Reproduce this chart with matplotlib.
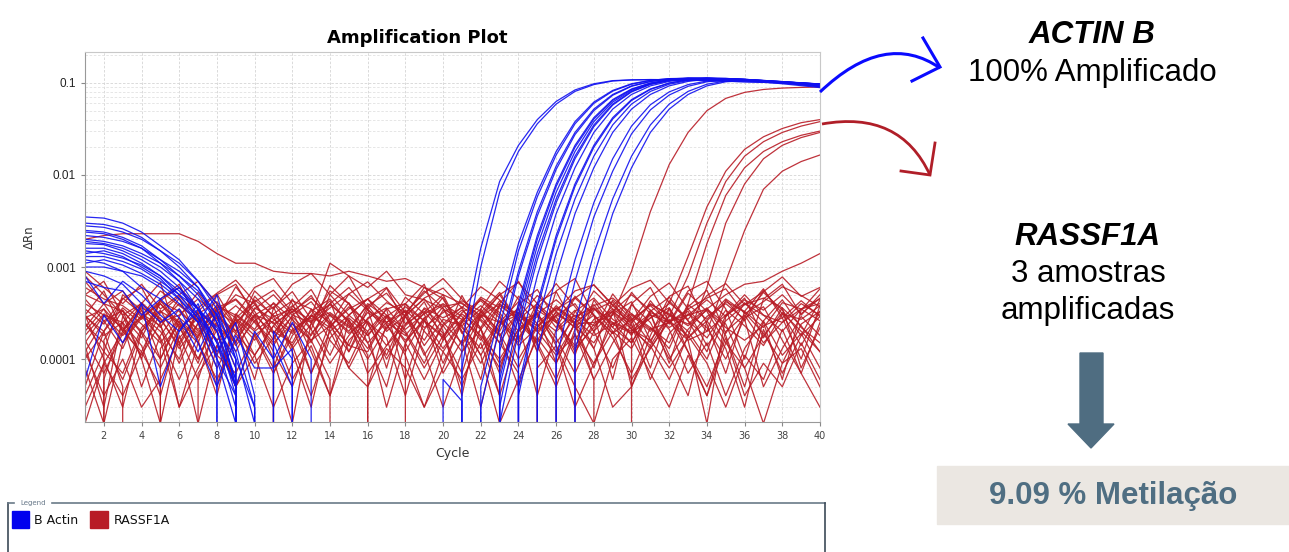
import numpy as np
import matplotlib
matplotlib.use("Agg")
import matplotlib.pyplot as plt
from matplotlib.patches import Rectangle, Polygon, PathPatch
from matplotlib.path import Path

# dRn values in units of 1e-4, cycles 1..40 (0 = below baseline)
cycles = list(range(1, 41))
RN_UNIT = 1e-4

b_actin = [
    [35, 34, 30, 24, 17, 12, 7, 3.5, 1, 0, 0, 0, 0, 0, 0, 0, 0, 0, 0, 0,
     1.5, 16, 85, 210, 400, 630, 840, 980, 1060, 1080, 1085, 1080, 1070, 1060, 1045, 1030, 1015, 1000, 990, 980],
    [30, 29, 26, 21, 15, 10, 6, 3, 0.5, 0, 0, 0, 0, 0, 0, 0, 0, 0, 0, 0,
     0.8, 10, 65, 180, 360, 590, 810, 960, 1050, 1080, 1090, 1085, 1075, 1060, 1045, 1030, 1015, 1000, 985, 975],
    [25, 24, 21, 17, 12, 8, 5, 2.5, 0.8, 0, 0, 0, 0, 0, 0, 0, 0, 0, 0, 0,
     0, 0.5, 3, 18, 65, 180, 380, 620, 830, 980, 1070, 1110, 1110, 1100, 1085, 1065, 1040, 1015, 990, 970],
    [20, 19, 17, 14, 11, 8, 5.5, 3, 1.2, 0.2, 0, 0, 0, 0, 0, 0, 0, 0, 0, 0,
     0, 0.3, 2.2, 15, 58, 165, 360, 600, 815, 970, 1065, 1115, 1125, 1110, 1090, 1065, 1035, 1000, 965, 930],
    [18, 17.5, 15, 12, 9, 6, 3.5, 1.5, 0.3, 0, 0, 0, 0, 0, 0, 0, 0, 0, 0, 0,
     0, 0, 1.5, 9, 40, 125, 290, 520, 750, 930, 1040, 1100, 1120, 1115, 1095, 1070, 1045, 1015, 985, 960],
    [15, 14, 12.5, 10.5, 8, 5.5, 3.5, 2, 0.6, 0, 0, 0, 0, 0, 0, 0, 0, 0, 0, 0,
     0, 0, 1.2, 8, 36, 115, 275, 500, 735, 920, 1035, 1105, 1130, 1125, 1100, 1065, 1025, 980, 935, 890],
    [13, 13, 11.5, 9.5, 7, 5, 3.5, 2.2, 1, 0.3, 0, 0, 0, 0, 0, 0, 0, 0, 0, 0,
     0, 0, 0.6, 4, 22, 80, 210, 420, 660, 860, 1000, 1080, 1110, 1115, 1100, 1080, 1055, 1030, 1000, 975],
    [12, 11, 9, 6, 4.5, 6, 3, 1.2, 2.5, 0.4, 0, 0, 0, 0, 0, 0, 0, 0, 0, 0,
     0, 0, 0.5, 3.5, 20, 75, 200, 405, 645, 850, 995, 1085, 1125, 1125, 1105, 1080, 1050, 1020, 990, 960],
    [10, 10, 9, 8, 6, 4, 2.5, 0.8, 0, 0, 0, 0, 0, 0, 0, 0, 0, 0, 0, 0,
     0, 0, 0, 2.5, 14, 55, 160, 350, 590, 810, 970, 1060, 1110, 1120, 1110, 1085, 1055, 1025, 995, 965],
    [9, 8, 6.5, 4, 2.5, 3.5, 1.5, 0.5, 1.8, 0.8, 0.8, 1.3, 0, 0, 0, 0, 0, 0, 0, 0,
     0, 0, 0.2, 2, 12, 50, 150, 335, 575, 800, 965, 1065, 1120, 1135, 1120, 1090, 1050, 1005, 960, 915],
    [8, 4, 7, 5, 3, 2, 4, 1, 0.4, 0, 0, 0, 0, 0, 0, 0, 0, 0, 0, 0,
     0, 0, 0, 1.2, 8, 38, 120, 290, 520, 750, 930, 1040, 1100, 1120, 1110, 1090, 1060, 1030, 1000, 970],
    [22, 21, 19, 16, 12, 9, 6, 2.5, 0.6, 0, 0, 0, 0, 0, 0, 0, 0, 0, 0, 0.6,
     0.35, 0, 0, 0.5, 4, 22, 80, 210, 420, 660, 860, 1000, 1080, 1110, 1110, 1090, 1060, 1030, 1000, 970],
    [16, 16, 14, 11, 8, 5, 2.8, 1, 0.2, 0, 0, 0, 0, 0, 0, 0, 0, 0, 0, 0,
     0, 0, 0, 0.4, 3.5, 20, 75, 200, 405, 645, 850, 995, 1085, 1125, 1120, 1095, 1060, 1015, 965, 920],
    [0.6, 3, 1.5, 4, 0.5, 2, 3.5, 1.5, 0.5, 2, 1, 2.5, 1, 0, 0, 0, 0, 0, 0, 0,
     0, 0, 0, 0, 2.5, 14, 55, 160, 350, 590, 810, 970, 1060, 1110, 1115, 1095, 1065, 1035, 1000, 970],
    [28, 27, 24, 20, 15, 11, 7, 4, 1.5, 0.3, 0, 0, 0, 0, 0, 0, 0, 0, 0, 0,
     0, 0, 0, 0, 1.2, 8, 38, 120, 290, 520, 750, 930, 1040, 1100, 1110, 1095, 1065, 1035, 1005, 975],
    [19, 18, 16, 13, 10, 7, 4.5, 2, 0.4, 0, 0, 0, 0, 0, 0, 0, 0, 0, 0, 0,
     0, 0, 0, 0, 0, 2, 12, 50, 150, 340, 580, 800, 960, 1050, 1080, 1075, 1050, 1020, 990, 960],
    [14, 15, 13, 10, 7.5, 4.5, 2.5, 5, 1, 0, 2, 1, 0, 0, 0, 0, 0, 0, 0, 0,
     0, 0, 0, 0, 0, 1, 7, 35, 110, 280, 510, 740, 920, 1030, 1075, 1070, 1045, 1015, 985, 955],
    [11, 12, 10.5, 8.5, 6.5, 4.5, 2.8, 1.6, 0.5, 0, 0, 0, 0, 0, 0, 0, 0, 0, 0, 0,
     0, 0, 0, 0, 0, 0, 2.5, 14, 55, 160, 350, 590, 810, 970, 1050, 1070, 1050, 1020, 990, 960],
    [24, 23, 20, 16, 11, 7, 3.5, 1.2, 0, 0, 0, 0, 0, 0, 0, 0, 0, 0, 0, 0,
     0, 0, 0, 0, 0, 0, 1.2, 8, 38, 120, 290, 520, 750, 930, 1030, 1060, 1045, 1015, 985, 955],
    [7, 6, 5.5, 3, 4.5, 2.8, 1.2, 3.2, 0.5, 0, 1.5, 0.5, 0, 0, 0, 0, 0, 0, 0, 0,
     0, 0, 0.3, 3, 17, 65, 180, 380, 620, 830, 980, 1070, 1110, 1115, 1100, 1075, 1040, 1000, 955, 910],
]

rassf1a = [
    [20, 22, 23, 23, 23, 23, 19, 14, 11, 11, 9, 8.5, 8.5, 8, 9, 8, 7, 7.5, 6, 5,
     4, 3, 2.5, 3, 2, 3, 2.5, 3.5, 2.5, 2, 3, 2.5, 3.5, 2, 3, 4, 3, 2.5, 3.5, 4],
    [8, 5, 3, 4, 2.5, 3, 4.5, 3, 2, 3.5, 5, 3, 2.5, 4, 6, 3.5, 2, 3, 4.5, 2.5,
     1.5, 3, 5, 2.5, 1.5, 3, 4, 2, 0.8, 2.5, 4, 3, 2, 1, 3, 5, 3, 2, 3.5, 4.5],
    [3, 1, 0.3, 2, 4, 2.5, 1, 3, 5, 4, 2, 1.5, 3.5, 2.5, 0.8, 2, 3.5, 4, 2, 1.2,
     2.5, 4.5, 3, 1, 2.2, 3.8, 2.5, 0.6, 1.5, 3, 2, 3.5, 1.2, 0.4, 2, 3, 1.5, 2.5, 4, 3],
    [1.5, 3, 2.5, 0.5, 1.8, 3.5, 2, 2.8, 1.2, 3, 4, 2.2, 0.7, 2, 3, 4.5, 2.5, 1.8, 3.2, 5,
     2, 0.9, 2.4, 3.5, 1.2, 0, 1.6, 3.4, 4.2, 2.1, 1.4, 3, 2.4, 3.6, 1.8, 0.5, 2.6, 4.4, 2.2, 1.5],
    [0.8, 0.2, 1.5, 3, 2, 1, 3.5, 2, 0.5, 1.8, 2.6, 3.8, 2.5, 1.1, 3, 2, 0.3, 1.5, 3.6, 2.8,
     3.6, 1.7, 0.8, 2.7, 4, 2.6, 1.3, 2.2, 3.8, 2.4, 0.6, 1.9, 3.1, 2.2, 1, 2.8, 3.7, 1.6, 0.7, 2.5],
    [5, 4, 2, 1.2, 3.2, 4.8, 3, 1.6, 2.5, 3.9, 2.4, 3.3, 4.6, 3, 1.9, 2.7, 4.1, 3.2, 1.1, 2.3,
     3.4, 2.2, 0.4, 2, 3.1, 4.4, 2.9, 3.6, 2, 1.3, 3.3, 4.7, 2.6, 1.7, 3.4, 2.3, 1.4, 3.1, 2.7, 3.8],
    [0, 0.6, 2.5, 1.4, 0.4, 2.2, 3.1, 4.2, 2.3, 0.9, 1.7, 2.9, 1.8, 4, 2.6, 0.7, 1.4, 2.4, 3.3, 1.9,
     0.5, 2.2, 4.3, 2.8, 1.5, 0.6, 2.1, 3, 1.9, 3.9, 2.5, 1, 2.1, 3.5, 2.4, 0.8, 1.8, 3.2, 2, 1.2],
    [2.2, 4, 3.3, 2, 1, 2.6, 1.8, 3.6, 4.5, 2.8, 1.2, 0.5, 1.9, 3.1, 2.2, 3.8, 5.2, 2.9, 1.6, 3.4,
     2.3, 1.1, 2.6, 1.5, 3.7, 2.5, 4.8, 3, 1.7, 0.7, 2.2, 1.3, 3.9, 2.7, 4.5, 3.2, 1.9, 0.9, 2.4, 3.3],
    [0.4, 1.2, 0.7, 2.2, 3.4, 1.5, 0.2, 1.4, 2.7, 1.6, 3.1, 4.3, 3.5, 1.6, 0.9, 2.5, 1.7, 0.4, 2.1, 3.7,
     4.1, 2.7, 1.8, 0.5, 1.9, 3.2, 2.2, 1.5, 3.1, 4.2, 1.6, 0.8, 1.7, 2.9, 4, 2.7, 0.5, 1.3, 2.9, 1.8],
    [3.5, 2.4, 4.6, 3.1, 2.3, 0.9, 2.5, 3.4, 1.4, 2.6, 3.7, 1.3, 2.4, 3.6, 5.1, 3.4, 2.5, 3.7, 2.6, 1.3,
     2.6, 3.8, 2.5, 4.2, 2.4, 1.2, 3.3, 4.6, 2.7, 1.9, 2.8, 3.6, 1.7, 2.6, 4.2, 3.3, 2.2, 4.1, 3.5, 2.6],
    [1, 2, 0.5, 0, 1.3, 2.4, 1.5, 0.6, 1.6, 3, 1.9, 0.6, 1.4, 0.4, 1.6, 2.6, 1.4, 2.9, 1.2, 0.3,
     1.2, 2.1, 0.9, 2.1, 3.2, 1.4, 0.3, 0.9, 2.5, 1.5, 3.4, 2.1, 0.7, 1.5, 0.4, 1.3, 2.6, 1.1, 1.9, 0.8],
    [6, 4.5, 3.8, 2.7, 4.2, 3.3, 2.1, 3.3, 2.4, 4.4, 3, 2, 2.9, 11, 8, 6, 9, 5, 4.4, 3.5,
     2.7, 4.7, 3.6, 2, 2.9, 2, 3, 2.3, 3.3, 5, 3.4, 2.2, 3, 4.4, 2.9, 4.4, 3.4, 5, 3.1, 4.6],
    [0.3, 0.9, 2, 3.4, 1.6, 0.3, 0.8, 2.1, 0.5, 0, 0.7, 1.8, 3, 2, 0.8, 0.5, 2.4, 1.1, 0.3, 0.8,
     2.6, 1.1, 0.2, 0.6, 1.7, 0.9, 2.5, 1.3, 0.3, 0.5, 1.4, 0.6, 1.8, 0.9, 0.3, 1.1, 0.6, 2.1, 0.7, 0.3],
    [4, 3, 1.8, 2.9, 5.5, 3.8, 2.7, 1.1, 3.1, 2.1, 4.1, 2.7, 1.6, 2.3, 3.5, 4.5, 3, 2.1, 3.1, 4,
     2.9, 1.6, 3.9, 3.1, 2.3, 3.6, 2.4, 3.8, 4.6, 3.1, 2.1, 2.5, 3.3, 1.4, 2.6, 3.9, 4.6, 3.6, 2.3, 1.2],
    [1.2, 0.4, 1, 0.3, 0.6, 1.7, 2.8, 1.1, 0.7, 1.9, 0.8, 2.8, 0.7, 2.5, 1.4, 1.2, 2.9, 1.9, 0.8, 1.8,
     0.7, 3, 1.5, 0.7, 0, 1.1, 1.8, 0.9, 2, 0.6, 1.3, 2.7, 1.2, 0.5, 1.7, 0.4, 0.9, 0.5, 1.5, 0.6],
    [2.8, 3.5, 2.1, 3.6, 2.8, 1.3, 2.4, 3.8, 3, 2, 2.9, 3.5, 2.6, 3.2, 2.3, 1, 2.2, 3.4, 2.2, 3.2,
     4.3, 3.3, 1.8, 3.2, 2.1, 2.9, 1.2, 2.4, 3.5, 2.5, 3.9, 3.1, 2.3, 3.4, 2.2, 1.6, 2.3, 2.8, 4.3, 2.9],
    [5, 7, 3, 1, 4.5, 6.5, 2.5, 0.5, 3, 6, 7.5, 4, 1.5, 5, 8, 3.5, 0.8, 4, 6.5, 2,
     0.4, 3.5, 7, 4.5, 1.2, 5.5, 7.5, 3, 0.6, 4, 6, 2.5, 5.5, 7, 3.5, 1, 4.5, 6.5, 3, 5],
    [0.5, 2, 4.5, 6, 2.5, 0.3, 1.5, 5, 6.5, 3, 1, 0.2, 2.5, 5.5, 4, 1.5, 0.5, 3, 6, 4.5,
     2, 0.6, 4, 7, 3, 0.9, 2.5, 5.5, 3.5, 0.5, 1.8, 4.8, 6.2, 2.4, 0.7, 3.3, 5.8, 2.8, 1, 3.8],
    [9, 6, 4, 6.5, 3.5, 5, 7, 4, 2, 5.5, 3.5, 6.5, 8.5, 5, 3, 4.5, 6, 3.2, 5.2, 7.5,
     4.5, 2.8, 5, 6.8, 4, 2.2, 4.6, 6.4, 3.8, 5.9, 7.2, 4.1, 2.7, 4.9, 6.6, 3.9, 5.4, 7.8, 4.8, 6],
    [0.2, 0.9, 0.4, 1.2, 0.5, 0, 0.7, 1.4, 0.5, 1.1, 0.3, 0.9, 1.6, 0.6, 0, 0.5, 1.3, 0.8, 0.3, 1.2,
     0.6, 1.5, 0.4, 0, 0.8, 1.4, 0.5, 0.2, 1, 1.7, 0.7, 0.3, 1.1, 0.4, 1.5, 0.8, 0.2, 0.9, 1.3, 0.5],
    [3, 5.5, 2, 4, 6.8, 1.5, 3.3, 5.1, 2.3, 0.6, 3.6, 5.4, 2.7, 4.3, 1.2, 3.5, 5.9, 2.4, 4.2, 1.6,
     4.9, 2.1, 0.7, 3.9, 5.7, 2.6, 1.1, 4.4, 2.2, 5.3, 3.1, 0.9, 3.7, 5.6, 1.9, 4.1, 2.5, 0.6, 3.4, 5.8],
    [1.4, 0.3, 2.9, 1.7, 4.4, 2.3, 0.9, 3.7, 1.5, 4.8, 2.9, 1.2, 0.3, 2.2, 4.1, 1.8, 3.5, 0.6, 2.6, 4.7,
     1.9, 3.2, 5.3, 2.5, 0.4, 2.1, 3.4, 1.3, 4.4, 2.7, 0.8, 3.6, 1.6, 0.2, 2.9, 4.6, 1.7, 3.6, 0.8, 2.2],
    [7, 4, 5.5, 2.8, 4.3, 6, 3.6, 5.2, 7.2, 4.2, 5.6, 3.2, 4.9, 2.4, 5.1, 6.9, 4.3, 2.9, 4.6, 5.9,
     3.6, 6.1, 4.4, 2.8, 4.9, 3.3, 5.5, 6.4, 3.9, 2.6, 4.8, 6.7, 3.5, 4.6, 5.8, 3.1, 4.2, 6.1, 4.9, 3.7],
    [0, 1.6, 3.4, 1, 0.2, 1.8, 0.6, 2.5, 0.8, 0, 1.9, 3.3, 1.2, 0.4, 2.7, 1.1, 0, 1.5, 2.8, 0.7,
     1.6, 0.3, 2.3, 3.6, 1.4, 0.5, 1.9, 0.6, 0, 2.2, 3.1, 1.1, 0.4, 2.6, 1.3, 0.3, 2.1, 0.7, 1.8, 2.9],
    [4.5, 2.6, 1.3, 3.8, 2.2, 4.6, 1.6, 0.4, 2.8, 4.2, 1.9, 3.7, 5.7, 2.6, 1.4, 3.8, 2.1, 4.7, 3.1, 0.9,
     2.5, 4.5, 3.2, 1.6, 4.1, 5.4, 2.3, 0.8, 3.2, 1.8, 4.3, 2.4, 5.2, 3.3, 1.5, 2.9, 5.3, 3.4, 1.8, 4.4],
    [2.5, 1.2, 5, 3.4, 1, 2.9, 5.3, 2.7, 6.1, 3.3, 1.6, 4.5, 2.1, 6.3, 4, 2.4, 1.1, 3.1, 5.5, 3.6,
     1.4, 3.3, 2, 4.8, 3.5, 6.6, 3.7, 2, 5.1, 2.8, 1.5, 4.3, 2.6, 1.2, 4.4, 2.6, 5.6, 3.1, 1.4, 3.3],
    # amplified wells
    [2, 3.5, 1.5, 2.8, 4, 2.2, 1, 2.6, 3.8, 2.5, 1.4, 3, 4.2, 2.3, 1.2, 2.8, 3.6, 2, 0.9, 2.4,
     3.7, 2.6, 1.5, 3.2, 2, 1.1, 2.4, 2.5, 3, 9, 40, 130, 290, 500, 680, 790, 850, 880, 895, 905],
    [3, 1.8, 2.5, 4.1, 2.7, 1.4, 3.2, 2.3, 1.5, 3.6, 2.7, 1.9, 3.3, 4.5, 2.4, 1.3, 2.9, 4, 2.6, 1.7,
     3.1, 2.1, 3.8, 2.7, 1.6, 3.3, 2.2, 3.6, 2.4, 1.9, 2.8, 4, 13, 45, 110, 190, 260, 320, 370, 400],
    [1.2, 2.6, 3.4, 1.9, 0.8, 2.2, 3.1, 1.6, 2.7, 1.1, 2.3, 3.5, 2.1, 0.9, 1.8, 3.2, 2.4, 1.2, 2.8, 3.9,
     2.2, 1.3, 2.6, 1.7, 3.4, 2.5, 1.4, 2.7, 3.3, 2.1, 1.6, 2.9, 8, 30, 85, 160, 230, 290, 340, 380],
    [2.4, 1.5, 0.6, 2, 3.3, 2.5, 1.7, 3.9, 2.8, 1.8, 0.7, 2.1, 2.9, 3.9, 2.6, 1.5, 2.5, 3.3, 1.4, 2.7,
     2.3, 3.5, 1.9, 0.8, 2.5, 3.6, 2.7, 1.8, 2.4, 3.1, 2.2, 1.5, 4, 18, 60, 120, 180, 230, 270, 300],
    [1.8, 3.1, 2.2, 1.1, 2.5, 4, 2.6, 0.8, 1.9, 3, 2.5, 1.4, 3, 2.2, 3.7, 2.5, 1, 2.3, 3.5, 2.3,
     1.2, 2.9, 4, 2.6, 3.1, 1.5, 2.8, 3.9, 2.2, 1.5, 3.2, 2.6, 1.8, 6, 30, 80, 150, 210, 255, 290],
    [2.9, 2, 3.6, 2.4, 1.5, 2.8, 1.9, 3.4, 4.4, 2.6, 1.5, 2.4, 1.6, 3, 2, 4, 2.8, 1.6, 2.6, 1.8,
     3.2, 4.3, 2.8, 1.4, 2.2, 3.5, 4.6, 3, 1.9, 2.7, 3.8, 2.5, 1.6, 2, 7, 25, 70, 110, 140, 165],
    [1.6, 0.7, 1.9, 2.9, 1.7, 0.6, 1.8, 2.9, 1.9, 1.1, 2.3, 1.4, 0.4, 1.7, 2.8, 1.8, 3, 1.5, 0.6, 1.6,
     2.7, 1.8, 1, 2.1, 3.1, 1.7, 0.7, 2, 3.3, 2.3, 1.3, 2.6, 3, 3.5, 5, 6.5, 7, 9, 11, 14],
]

y_ticks = [0.0001, 0.001, 0.01, 0.1]
y_tick_labels = ["0.0001", "0.001", "0.01", "0.1"]
x_ticks = list(range(2, 41, 2))

BLUE = "#1010f0"
RED = "#b81c26"
SLATE = "#4f6d81"
W, H = 1289, 552

fig = plt.figure(figsize=(W / 100, H / 100), dpi=100)
ax = fig.add_axes([85 / W, 1 - 422 / H, 735 / W, 370 / H])

for vals in rassf1a:
    ax.plot(cycles, np.array(vals) * RN_UNIT, color=RED, lw=0.9, alpha=0.9)
for vals in b_actin:
    ax.plot(cycles, np.array(vals) * RN_UNIT, color=BLUE, lw=0.9, alpha=0.9)

ax.set_yscale("log", nonpositive="clip")
ax.set_ylim(2.07e-5, 0.217)
ax.set_xlim(1, 40)
ax.set_xticks(x_ticks)
ax.set_yticks(y_ticks)
ax.set_yticklabels(y_tick_labels)
ax.tick_params(axis="y", labelsize=8.5, length=3, color="#888888", labelcolor="#222222")
ax.tick_params(axis="x", labelsize=7, length=3, color="#888888", labelcolor="#444444")
ax.tick_params(which="minor", length=0)
for lab in ax.get_yticklabels():
    lab.set_family("Liberation Sans")
ax.grid(True, which="major", color="#d4d4d4", lw=0.6, ls=(0, (3, 2)))
ax.grid(True, which="minor", axis="y", color="#e2e2e2", lw=0.6, ls=(0, (3, 2)))
for side in ["top", "right"]:
    ax.spines[side].set_color("#c8c8c8")
for side in ["left", "bottom"]:
    ax.spines[side].set_color("#999999")
ax.set_xlabel("Cycle", fontsize=9, color="#333333", labelpad=4)
ax.set_ylabel("ΔRn", fontsize=8.5, color="#333333", labelpad=3)

# overlay in pixel coordinates for annotations
ov = fig.add_axes([0, 0, 1, 1], zorder=5)
ov.set_xlim(0, W)
ov.set_ylim(H, 0)
ov.axis("off")
ov.patch.set_alpha(0)

ov.text(417, 38, "Amplification Plot", fontsize=13, fontweight="bold", ha="center", va="center")

# legend panel
ov.plot([8, 8], [503, 560], color="#3c4a58", lw=1.2, clip_on=False)
ov.plot([8, 14], [503, 503], color="#6a7a88", lw=1.2)
ov.plot([52, 825], [503, 503], color="#6a7a88", lw=1.2)
ov.plot([825, 825], [503, 560], color="#3c4a58", lw=1.2, clip_on=False)
ov.text(20, 503, "Legend", fontsize=5, color="#667788", va="center")
ov.add_patch(Rectangle((12, 511), 17, 17, color="#0000ee"))
ov.text(34, 520, "B Actin", fontsize=9, va="center", color="#111111")
ov.add_patch(Rectangle((90, 511), 18, 17, color="#b81c26"))
ov.text(114, 520, "RASSF1A", fontsize=9, va="center", color="#111111")

# curved arrows
blue_arc = Path([(820, 92), (885, 30), (940, 68)], [Path.MOVETO, Path.CURVE3, Path.CURVE3])
ov.add_patch(PathPatch(blue_arc, fill=False, color="#0a0aff", lw=2.2))
ov.plot([923, 940, 912], [38, 67, 81], color="#0a0aff", lw=2.2, solid_joinstyle="miter")
red_arc = Path([(822, 124), (900, 110), (930, 175)], [Path.MOVETO, Path.CURVE3, Path.CURVE3])
ov.add_patch(PathPatch(red_arc, fill=False, color="#b01e28", lw=2.0))
ov.plot([935, 930, 901], [143, 175, 171], color="#b01e28", lw=2.0, solid_joinstyle="miter")

# right-side texts
tf = "Liberation Sans"
ov.text(1092, 35, "ACTIN B", fontsize=22.5, family=tf, fontweight="bold", fontstyle="italic",
        ha="center", va="center")
ov.text(1092, 73, "100% Amplificado", fontsize=22.5, family=tf, ha="center", va="center")
ov.text(1088, 237, "RASSF1A", fontsize=22.5, family=tf, fontweight="bold", fontstyle="italic",
        ha="center", va="center")
ov.text(1088, 274, "3 amostras", fontsize=22.5, family=tf, ha="center", va="center")
ov.text(1088, 311, "amplificadas", fontsize=22.5, family=tf, ha="center", va="center")

# down arrow
ov.add_patch(Polygon([(1080, 353), (1103, 353), (1103, 424), (1114, 424), (1091, 448),
                      (1068, 424), (1080, 424)], closed=True, color=SLATE))

# result box
ov.add_patch(Rectangle((937, 466), 352, 58, color="#ebe7e2"))
ov.text(1113, 496, "9.09 % Metilação", fontsize=22.5, family=tf, fontweight="bold",
        color="#4f6e82", ha="center", va="center")

fig.savefig("out.png", dpi=100)
